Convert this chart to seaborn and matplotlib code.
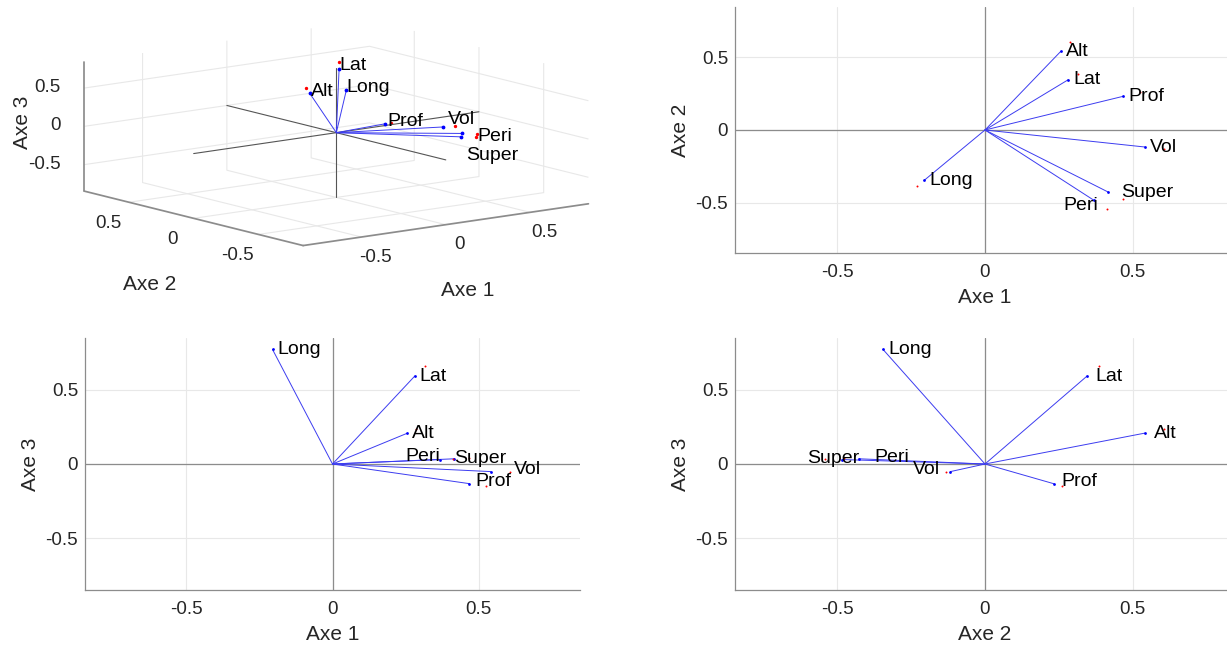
import numpy as np
import pandas as pd
import matplotlib
matplotlib.use("Agg")
import matplotlib.pyplot as plt
from mpl_toolkits.mplot3d import proj3d
import seaborn as sns

# ── data: PCA loadings of the 7 variables on the first three axes ────────────
variables = ["Alt", "Lat", "Prof", "Vol", "Super", "Peri", "Long"]
axe1 = [0.256, 0.281, 0.468, 0.541, 0.417, 0.369, -0.205]
axe2 = [0.540, 0.345, 0.232, -0.117, -0.427, -0.484, -0.345]
axe3 = [0.207, 0.590, -0.132, -0.051, 0.035, 0.030, 0.769]

# small red points next to the vector tips
dot1 = [0.287, 0.315, 0.524, 0.606, 0.467, 0.413, -0.230]
dot2 = [0.605, 0.386, 0.260, -0.131, -0.478, -0.542, -0.386]
dot3 = [0.232, 0.661, -0.148, -0.057, 0.039, 0.034, 0.861]

lim = 0.846
ticks = [-0.5, 0, 0.5]
tick_labels = ["-0.5", "0", "0.5"]

df = pd.DataFrame({"var": variables, "Axe 1": axe1, "Axe 2": axe2, "Axe 3": axe3,
                   "d1": dot1, "d2": dot2, "d3": dot3})

# label offsets in pixels (dx, dy) from the vector tip, text left-aligned
OFF_12 = {"Alt": (5, 0), "Lat": (5, 0), "Prof": (5, 0), "Vol": (5, 0),
          "Super": (13, 0), "Peri": (-31, -5), "Long": (5, 0)}
OFF_13 = {"Alt": (5, 0), "Lat": (5, 0), "Prof": (6, 2), "Vol": (23, 2),
          "Super": (0, 0), "Peri": (-35, 3), "Long": (5, 0)}
OFF_23 = {"Alt": (9, 0), "Lat": (8, 0), "Prof": (8, 2), "Vol": (-38, 2),
          "Super": (-52, 0), "Peri": (32, 2), "Long": (5, 0)}
OFF_3D = {"Alt": (1, 2), "Lat": (0, 4), "Prof": (2, 2), "Vol": (5, 7),
          "Super": (4, -22), "Peri": (16, 0), "Long": (0, 2)}

VEC = "#3c3cf0"
AXLINE = "#8c8c8c"
GRID = "#e8e8e8"
TXT = "#262626"
FS_TICK = 13.5
FS_LAB = 15
FS_VAR = 14

sns.set_theme(style="white")
plt.rcParams["font.family"] = ["Liberation Sans", "DejaVu Sans"]
plt.rcParams["axes.unicode_minus"] = False
plt.rcParams["grid.color"] = GRID

fig = plt.figure(figsize=(12.27, 6.46), dpi=100)
W, H = 1227, 646


def rect(l, r, t, b):
    return [l / W, (H - b) / H, (r - l) / W, (b - t) / H]


# ── 3-D biplot (added first so that it sits under the 2-D panels) ────────────
ax3 = fig.add_axes(rect(77, 582, -113, 392), projection="3d")
ax3.set_facecolor("none")
ax3.set_proj_type("ortho")
ax3.view_init(elev=11, azim=-127.5)
ax3.set_box_aspect((1, 1, 0.367), zoom=1.01)
ax3.set_xlim(-lim, lim)
ax3.set_ylim(-lim, lim)
ax3.set_zlim(-lim, lim)
ax3.set_xticks(ticks, tick_labels)
ax3.set_yticks(ticks, tick_labels)
ax3.set_zticks(ticks, tick_labels)
for axis in (ax3.xaxis, ax3.yaxis, ax3.zaxis):
    axis.set_pane_color((1, 1, 1, 0))
    axis.pane.set_edgecolor(GRID)
    axis.line.set_color(AXLINE)
    axis._axinfo["grid"]["color"] = GRID
    axis._axinfo["grid"]["linewidth"] = 0.8
    axis._axinfo["tick"]["inward_factor"] = 0.0
    axis._axinfo["tick"]["outward_factor"] = 0.0
ax3.tick_params(labelsize=FS_TICK, colors=TXT)
ax3.xaxis.set_tick_params(pad=4)
ax3.yaxis.set_tick_params(pad=6)
ax3.zaxis.set_tick_params(pad=1)
for t in ax3.zaxis.get_major_ticks():
    t.label1.set_horizontalalignment("right")
    t.label1.set_verticalalignment("center")
ax3.set_xlabel("")
ax3.set_ylabel("")
ax3.set_zlabel("")
fig.text(468 / W, 1 - 290 / H, "Axe 1", fontsize=FS_LAB, color=TXT, ha="center", va="center")
fig.text(150 / W, 1 - 284 / H, "Axe 2", fontsize=FS_LAB, color=TXT, ha="center", va="center")
fig.text(22 / W, 1 - 122 / H, "Axe 3", fontsize=FS_LAB, color=TXT, ha="center", va="center",
         rotation=90)

ax3.plot([-lim, lim], [0, 0], [0, 0], color="#555555", lw=0.8)
ax3.plot([0, 0], [-lim, lim], [0, 0], color="#555555", lw=0.8)
ax3.plot([0, 0], [0, 0], [-lim, lim], color="#555555", lw=0.8)
for _, r in df.iterrows():
    ax3.plot([0, r["Axe 1"]], [0, r["Axe 2"]], [0, r["Axe 3"]], color=VEC, lw=0.7)
ax3.scatter(df["Axe 1"], df["Axe 2"], df["Axe 3"], color="blue", s=3, depthshade=False)
inside = df[df["d3"] <= lim]
ax3.scatter(inside["d1"], inside["d2"], inside["d3"], color="red", s=2, depthshade=False)


def biplot_2d(ax, cx, cy, dx, dy, offsets):
    ax.set_xlim(-lim, lim)
    ax.set_ylim(-lim, lim)
    ax.set_xticks(ticks, tick_labels)
    ax.set_yticks(ticks, tick_labels)
    ax.grid(True, color=GRID, lw=0.8)
    ax.tick_params(labelsize=FS_TICK, colors=TXT, length=0)
    ax.tick_params(axis="x", pad=8)
    ax.tick_params(axis="y", pad=5)
    for s in ["top", "right"]:
        ax.spines[s].set_visible(False)
    for s in ["left", "bottom"]:
        ax.spines[s].set_color(AXLINE)
        ax.spines[s].set_linewidth(0.9)
    ax.axhline(0, color=AXLINE, lw=0.9, zorder=1)
    ax.axvline(0, color=AXLINE, lw=0.9, zorder=1)
    for _, r in df.iterrows():
        ax.plot([0, r[cx]], [0, r[cy]], color=VEC, lw=0.7, zorder=2)
    sns.scatterplot(data=df, x=cx, y=cy, ax=ax, color="blue", s=4,
                    linewidth=0, legend=False, zorder=3)
    sns.scatterplot(data=df, x=dx, y=dy, ax=ax, color="red", s=2,
                    linewidth=0, legend=False, zorder=3)
    for _, r in df.iterrows():
        ox, oy = offsets[r["var"]]
        ax.annotate(r["var"], (r[cx], r[cy]), xytext=(ox, oy),
                    textcoords="offset pixels", ha="left", va="center",
                    fontsize=FS_VAR, color="black", zorder=4)
    ax.set_xlabel(cx, fontsize=FS_LAB, color=TXT, labelpad=5)
    ax.set_ylabel(cy, fontsize=FS_LAB, color=TXT, labelpad=4)


ax_tr = fig.add_axes(rect(735, 1235, 7, 253))
biplot_2d(ax_tr, "Axe 1", "Axe 2", "d1", "d2", OFF_12)
ax_bl = fig.add_axes(rect(85, 580, 338, 590))
biplot_2d(ax_bl, "Axe 1", "Axe 3", "d1", "d3", OFF_13)
ax_br = fig.add_axes(rect(735, 1235, 338, 590))
biplot_2d(ax_br, "Axe 2", "Axe 3", "d2", "d3", OFF_23)

# variable names in the 3-D panel: project the tips once the view is fixed
fig.canvas.draw()
px, py, _ = proj3d.proj_transform(df["Axe 1"].values, df["Axe 2"].values,
                                  df["Axe 3"].values, ax3.get_proj())
for name, x2, y2 in zip(df["var"], px, py):
    ox, oy = OFF_3D[name]
    ax3.annotate(name, (x2, y2), xytext=(ox, oy), textcoords="offset pixels",
                 ha="left", va="center", fontsize=FS_VAR, color="black")

fig.savefig("out.png", dpi=100)
